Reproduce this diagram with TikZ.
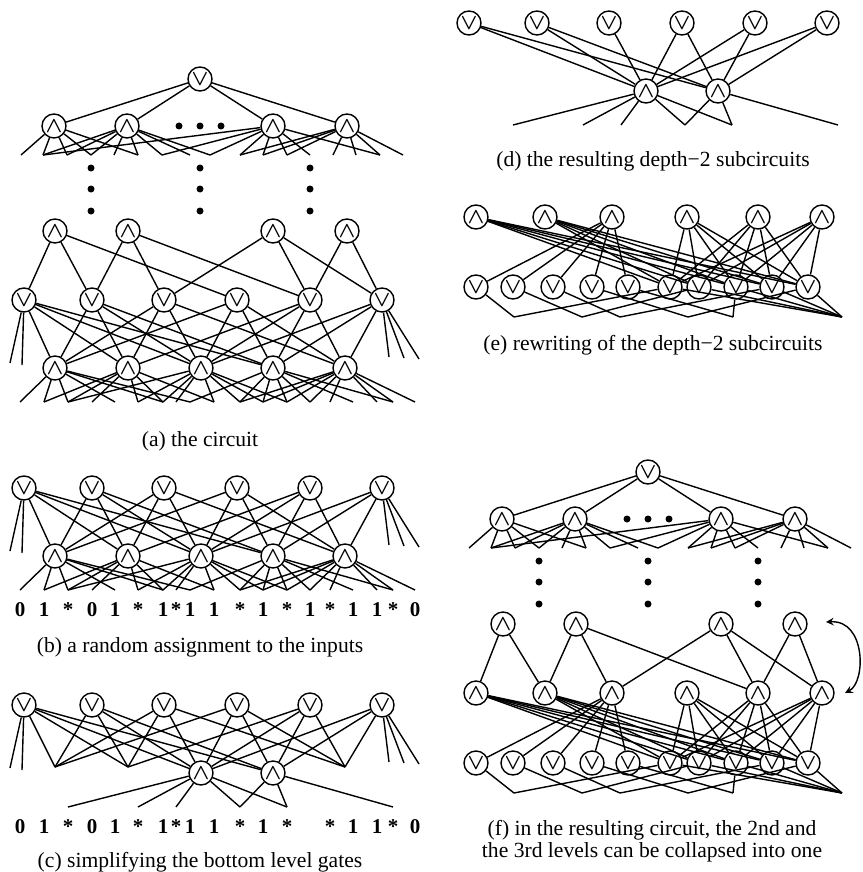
\documentclass[tikz,border=0pt]{standalone}
\usepackage{fontspec}
\setmainfont{Liberation Serif}

\tikzset{
  gate/.style={circle, draw, line width=0.7pt, inner sep=0pt, minimum size=12pt, font=\fontsize{11}{11}\selectfont\boldmath},
  wire/.style={line width=0.7pt},
  caption/.style={font=\fontsize{10.8}{11}\selectfont, align=center},
  literal/.style={font=\fontsize{10.5}{11}\selectfont\bfseries, anchor=base, yshift=-13pt, inner sep=0pt}
}

\begin{document}
\begin{tikzpicture}[x=0.5pt, y=-0.5pt]
\useasboundingbox (0,0) rectangle (862,872);

% x positions of the lower levels (OR row, AND row, inputs)
\def\orxs{24,92,164,237,310,382}
\def\andxs{55,128,201,273,345}
\def\inxs{20,44,68,92,115,138,163,176,190,214,240,263,287,310,330,353,377,393,415}
% wiring OR -> AND and AND -> input
\def\orand{o1/a1,o1/a2,o1/a3,o1/a4,o2/a1,o2/a2,o2/a3,o2/a4,o3/a1,o3/a2,o3/a3,o3/a5,o4/a1,o4/a3,o4/a4,o4/a5,o5/a2,o5/a3,o5/a4,o5/a5,o6/a3,o6/a4,o6/a5}
\def\andin{a1/1,a1/2,a1/3,a1/5,a1/7,a1/9,a2/2,a2/3,a2/4,a2/6,a2/7,a2/10,a3/3,a3/6,a3/7,a3/8,a3/10,a3/11,a3/12,a3/13,a4/9,a4/11,a4/12,a4/13,a4/14,a4/16,a4/18,a5/11,a5/12,a5/13,a5/14,a5/15,a5/17,a5/18,a5/19}
% what is left after the assignment
\def\starin{a3/3,a3/6,a3/8,a3/11,a3/13,a4/11,a4/13,a4/18}
% wiring of the first AND level
\def\topin{t1/1,t1/2,t1/3,t1/4,t1/6,t2/2,t2/3,t2/4,t2/5,t2/6,t2/7,t2/8,t2/9,t3/2,t3/7,t3/9,t3/10,t3/11,t3/12,t3/13,t3/16,t4/10,t4/11,t4/12,t4/14,t4/15,t4/16,t4/17}

% output gate and the two upper AND levels, (a) and (f)
\foreach \p/\dx/\dy in {a/0/0,f/448/393}{
  \begin{scope}[shift={(\dx,\dy)}]
    \node[gate] (\p-top) at (200,79) {$\vee$};
    \foreach \x [count=\k] in {54,127,273,347}
      \node[gate] (\p-t\k) at (\x,126) {$\wedge$};
    \foreach \x [count=\k] in {21,43,67,91,114,138,162,190,210,240,263,287,310,333,356,380,403}
      \coordinate (\p-u\k) at (\x,155);
    \foreach \x [count=\k] in {55,128,273,347}
      \node[gate] (\p-s\k) at (\x,231) {$\wedge$};
    % dots
    \foreach \x in {179,200,221}
      \fill (\x,126) circle (3.5);
    \foreach \x in {91,200,310}
      \foreach \y in {168,189,211}
        \fill (\x,\y) circle (3.5);
  \end{scope}
  \foreach \k in {1,...,4}
    \draw[wire] (\p-top) -- (\p-t\k);
  \foreach \u/\k in \topin
    \draw[wire] (\p-\u) -- (\p-u\k);
}

% OR level, AND level and inputs, (a) and (b)
\foreach \p/\dy in {a/0,b/188}{
  \begin{scope}[shift={(0,\dy)}]
    \foreach \x [count=\k] in \orxs
      \node[gate] (\p-o\k) at (\x,300) {$\vee$};
    \foreach \x [count=\k] in \andxs
      \node[gate] (\p-a\k) at (\x,368) {$\wedge$};
    \foreach \x [count=\k] in \inxs
      \coordinate (\p-i\k) at (\x,402);
    \foreach \x/\y [count=\k] in {10/363,22/365,389/357,404/358,419/359}
      \coordinate (\p-free\k) at (\x,\y);
  \end{scope}
  \foreach \u/\v in \orand
    \draw[wire] (\p-\u) -- (\p-\v);
  \foreach \u/\k in \andin
    \draw[wire] (\p-\u) -- (\p-i\k);
  \foreach \k in {1,2}
    \draw[wire] (\p-o1) -- (\p-free\k);
  \foreach \k in {3,4,5}
    \draw[wire] (\p-o6) -- (\p-free\k);
}
\foreach \u/\v in {s1/o1,s1/o2,s1/o4,s2/o2,s2/o3,s2/o5,s3/o3,s3/o5,s3/o6,s4/o5,s4/o6}
  \draw[wire] (a-\u) -- (a-\v);

% (c) bottom gates simplified
\begin{scope}[shift={(0,405)}]
  \foreach \x [count=\k] in \orxs
    \node[gate] (c-o\k) at (\x,300) {$\vee$};
  \foreach \x [count=\k] in \andxs
    \coordinate (c-a\k) at (\x,362);
  \node[gate] (c-a3) at (201,368) {$\wedge$};
  \node[gate] (c-a4) at (273,368) {$\wedge$};
  \foreach \x [count=\k] in \inxs
    \coordinate (c-i\k) at (\x,402);
  \foreach \x/\y [count=\k] in {10/363,22/365,389/357,404/358,419/359}
    \coordinate (c-free\k) at (\x,\y);
\end{scope}
\foreach \u/\v in \orand
  \draw[wire] (c-\u) -- (c-\v);
\foreach \u/\k in \starin
  \draw[wire] (c-\u) -- (c-i\k);
\foreach \k in {1,2}
  \draw[wire] (c-o1) -- (c-free\k);
\foreach \k in {3,4,5}
  \draw[wire] (c-o6) -- (c-free\k);

% (d) depth-2 subcircuits
\begin{scope}[shift={(445,-277)}]
  \foreach \x [count=\k] in \orxs
    \node[gate] (d-o\k) at (\x,300) {$\vee$};
  \node[gate] (d-a3) at (201,368) {$\wedge$};
  \node[gate] (d-a4) at (273,368) {$\wedge$};
  \foreach \x [count=\k] in \inxs
    \coordinate (d-i\k) at (\x,402);
\end{scope}
\foreach \u/\v in {o1/a3,o1/a4,o2/a3,o2/a4,o3/a3,o4/a3,o4/a4,o5/a3,o5/a4,o6/a3,o6/a4}
  \draw[wire] (d-\u) -- (d-\v);
\foreach \u/\k in \starin
  \draw[wire] (d-\u) -- (d-i\k);

% (e) rewritten subcircuits, reused at the bottom of (f)
\foreach \p/\dy in {e/0,f/476}{
  \begin{scope}[shift={(0,\dy)}]
    \foreach \x [count=\k] in {476,545,612,687,758,822}
      \node[gate] (\p-m\k) at (\x,217) {$\wedge$};
    \foreach \x [count=\k] in {476,513,553,592,628,670,699,736,772,808}
      \node[gate] (\p-q\k) at (\x,287) {$\vee$};
    \foreach \x [count=\k] in {514,582,620,688,733,842}
      \coordinate (\p-r\k) at (\x,317);
  \end{scope}
  \foreach \i in {1,2,4,5,6}
    \foreach \j in {6,...,10}
      \draw[wire] (\p-m\i) -- (\p-q\j);
  \foreach \j in {1,...,5}
    \draw[wire] (\p-m3) -- (\p-q\j);
  \foreach \j in {1,...,5}{
    \pgfmathtruncatemacro\jj{\j+5}
    \draw[wire] (\p-q\j) -- (\p-r\j);
    \draw[wire] (\p-q\jj) -- (\p-r6);
  }
  \foreach \u/\v in {q6/r1,q7/r2,q9/r3,q10/r4,q8/r5}
    \draw[wire] (\p-\u) -- (\p-\v);
}
\foreach \u/\v in {s1/m1,s1/m2,s2/m2,s2/m3,s2/m5,s3/m3,s3/m5,s3/m6,s4/m5,s4/m6}
  \draw[wire] (f-\u) -- (f-\v);

% levels 2 and 3 collapse
\coordinate (f-up) at (826,622);
\coordinate (f-down) at (845,693);
\draw[wire, <->, >=stealth] (f-up) .. controls (866,620) and (866,682) .. (f-down);

% input values
\foreach \lit [count=\k] in {0,1,*,0,1,*,1,*,1,1,*,1,*,1,*,1,1,*,0}
  \node[literal] (b-lit\k) at (b-i\k) {\lit};
\foreach \lit [count=\k] in {0,1,*,0,1,*,1,*,1,1,*,1,*,{},*,1,1,*,0}
  \node[literal] (c-lit\k) at (c-i\k) {\lit};

% captions
\node[caption] (cap-a) at (200,441) {(a) the circuit};
\node[caption] (cap-b) at (200,647) {(b) a random assignment to the inputs};
\node[caption] (cap-c) at (200,862) {(c) simplifying the bottom level gates};
\node[caption] (cap-d) at (653,161) {(d) the resulting depth−2 subcircuits};
\node[caption] (cap-e) at (653,345) {(e) rewriting of the depth−2 subcircuits};
\node[caption] (cap-f) at (652,841) {(f) in the resulting circuit, the 2nd and\\the 3rd levels can be collapsed into one};

\end{tikzpicture}
\end{document}
